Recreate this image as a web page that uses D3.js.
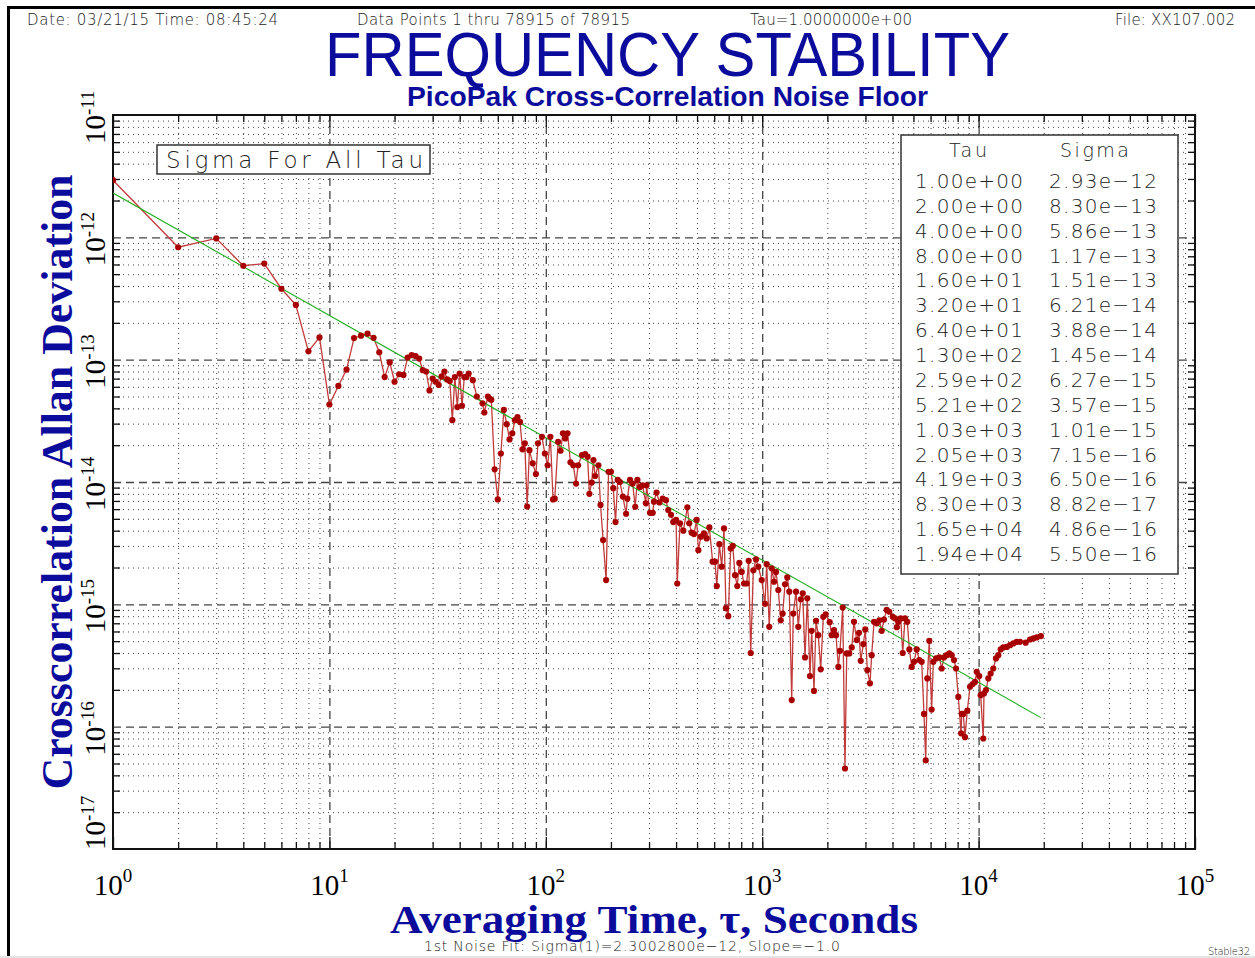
<!DOCTYPE html>
<html>
<head>
<meta charset="utf-8">
<script src="https://cdn.jsdelivr.net/npm/d3@7"></script>
<style>
body { margin: 0; background: #fff; }
svg { display: block; }
.hershey { font-family: 'DejaVu Sans', sans-serif; font-weight: 200; fill: #222; }
</style>
</head>
<body>
<div id="chart"></div>
<script>
'use strict'

var outerWidth = 1255;
var outerHeight = 958;
var plotLeft = 113, plotRight = 1195, plotTop = 115, plotBottom = 849;
var blue = '#0b0b9c';

// averaging times (s) and cross-correlation Allan deviation
var tauValues = [
  1, 2, 3, 4, 5, 6, 7, 8, 9, 10,
  11, 12, 13, 14, 15, 16, 17, 18, 19, 20,
  21, 22, 23, 24, 25, 26, 27, 28, 29, 30,
  31, 32, 33, 34, 35, 36, 37, 38, 39, 40,
  41, 42, 43, 44, 46, 48, 51, 52, 54, 55,
  56, 58, 60, 62, 64, 66, 68, 70, 72, 74,
  76, 78, 80, 82, 84, 87, 90, 92, 96, 99,
  102, 105, 108, 110, 114, 117, 120, 123, 126, 130,
  134, 138, 141, 147, 152, 156, 159, 163, 166, 169,
  175, 179, 184, 190, 195, 200, 205, 210, 215, 220,
  227, 235, 238, 245, 252, 259, 265, 272, 280, 290,
  292, 303, 312, 316, 325, 335, 347, 359, 368, 379,
  388, 400, 405, 417, 432, 451, 460, 472, 484, 498,
  507, 521, 538, 554, 570, 590, 605, 617, 634, 650,
  666, 680, 697, 715, 731, 749, 767, 784, 804, 824,
  848, 866, 885, 910, 936, 959, 995, 1030, 1049, 1078,
  1106, 1134, 1158, 1187, 1218, 1243, 1275, 1306, 1334, 1369,
  1392, 1433, 1468, 1507, 1539, 1577, 1616, 1663, 1693, 1735,
  1773, 1816, 1864, 1916, 1965, 2050, 2094, 2147, 2193, 2248,
  2288, 2355, 2413, 2458, 2526, 2593, 2656, 2734, 2802, 2853,
  2933, 2995, 3060, 3148, 3206, 3287, 3383, 3477, 3566, 3654,
  3761, 3867, 4010, 4110, 4190, 4259, 4365, 4460, 4571, 4683,
  4786, 4909, 5030, 5176, 5321, 5458, 5594, 5697, 5794, 5916,
  6067, 6177, 6357, 6580, 6753, 6920, 7122, 7320, 7510, 7697,
  7863, 8058, 8300, 8356, 8500, 8650, 8867, 9127, 9392, 9625,
  9800, 10070, 10220, 10510, 10590, 10820, 11090, 11370, 11690, 12030,
  12330, 12650, 13000, 13490, 13970, 14470, 15000, 15530, 16500, 17280,
  17890, 18560, 19400
];

var sigmaValues = [
  2.93e-12, 8.30e-13, 9.8e-13, 5.86e-13, 6.1e-13, 3.8e-13, 2.8e-13, 1.17e-13, 1.52e-13, 4.3e-14,
  6.1e-14, 8.3e-14, 1.50e-13, 1.57e-13, 1.63e-13, 1.51e-13, 1.15e-13, 7.2e-14, 9.5e-14, 6.6e-14,
  7.6e-14, 7.5e-14, 1.04e-13, 1.09e-13, 1.07e-13, 1.02e-13, 8.2e-14, 8.0e-14, 5.6e-14, 7.0e-14,
  6.6e-14, 6.21e-14, 7.3e-14, 8.0e-14, 6.9e-14, 6.7e-14, 3.2e-14, 7.2e-14, 4.1e-14, 7.7e-14,
  4.2e-14, 7.2e-14, 7.2e-14, 7.7e-14, 6.8e-14, 5.0e-14, 4.4e-14, 3.7e-14, 5.0e-14, 4.8e-14,
  4.7e-14, 1.27e-14, 7.2e-15, 1.71e-14, 3.88e-14, 2.97e-14, 2.23e-14, 2.5e-14, 3.2e-14, 3.4e-14,
  3.1e-14, 1.85e-14, 2.07e-14, 6.3e-15, 1.82e-14, 1.42e-14, 1.16e-14, 2.07e-14, 2.34e-14, 1.71e-14,
  1.37e-14, 2.34e-14, 7.2e-15, 7.3e-15, 2.13e-14, 1.8e-14, 2.5e-14, 2.27e-14, 2.5e-14, 1.45e-14,
  1.37e-14, 9.7e-15, 1.37e-14, 1.66e-14, 1.69e-14, 1.61e-14, 8.0e-15, 9.9e-15, 1.51e-14, 1.12e-14,
  1.37e-14, 6.5e-15, 3.35e-15, 1.58e-15, 1.21e-14, 1.21e-14, 8.9e-15, 4.7e-15, 1.04e-14, 1.0e-14,
  7.6e-15, 5.5e-15, 7.3e-15, 1.04e-14, 9.7e-15, 6.27e-15, 1.04e-14, 9.1e-15, 9.4e-15, 6.7e-15,
  9.4e-15, 5.6e-15, 5.6e-15, 6.9e-15, 8.2e-15, 6.8e-15, 7.3e-15, 7.1e-15, 5.9e-15, 5.4e-15,
  4.7e-15, 4.9e-15, 1.48e-15, 4.6e-15, 4.0e-15, 6.2e-15, 4.6e-15, 3.85e-15, 3.75e-15, 4.9e-15,
  2.77e-15, 3.57e-15, 3.8e-15, 3.46e-15, 4.25e-15, 2.23e-15, 2.23e-15, 1.41e-15, 3.1e-15, 2.03e-15,
  4.17e-15, 9.3e-16, 8.0e-16, 2.86e-15, 3.0e-15, 1.73e-15, 1.41e-15, 2.18e-15, 1.84e-15, 1.48e-15,
  1.48e-15, 2.27e-15, 4.0e-16, 1.9e-15, 2.33e-15, 2.03e-15, 1.58e-15, 1.01e-15, 2.13e-15, 6.55e-16,
  1.97e-15, 1.53e-15, 1.84e-15, 1.31e-15, 7.4e-16, 8.4e-16, 1.46e-15, 1.66e-15, 1.27e-15, 1.65e-16,
  8.4e-16, 1.27e-15, 6.55e-16, 1.1e-15, 1.23e-15, 3.68e-16, 1.12e-15, 2.59e-16, 6.07e-16, 1.96e-16,
  7.33e-16, 5.6e-16, 2.94e-16, 7.9e-16, 8.3e-16, 7.15e-16, 5.6e-16, 6.15e-16, 5.6e-16, 3.08e-16,
  4.17e-16, 9.4e-16, 4.55e-17, 3.97e-16, 3.97e-16, 4.44e-16, 7.2e-16, 5.1e-16, 5.85e-16, 3.45e-16,
  4.73e-16, 6.23e-16, 2.9e-16, 2.26e-16, 3.84e-16, 7.2e-16, 7.0e-16, 7.4e-16, 6.07e-16, 7.5e-16,
  9.0e-16, 8.7e-16, 7.9e-16, 7.67e-16, 6.50e-16, 7.2e-16, 7.67e-16, 4.0e-16, 7.67e-16, 7.2e-16,
  4.28e-16, 3.08e-16, 3.39e-16, 4.28e-16, 3.5e-16, 3.39e-16, 1.27e-16, 5.3e-17, 2.48e-16, 5.03e-16,
  1.38e-16, 3.39e-16, 3.61e-16, 3.68e-16, 2.99e-16, 3.68e-16, 3.84e-16, 3.97e-16, 3.84e-16, 3.5e-16,
  2.99e-16, 1.75e-16, 8.82e-17, 1.27e-16, 1.27e-16, 8.2e-17, 1.35e-16, 2.12e-16, 2.23e-16, 2.32e-16,
  2.81e-16, 2.59e-16, 1.81e-16, 8.0e-17, 1.87e-16, 1.99e-16, 2.48e-16, 2.72e-16, 2.99e-16, 3.61e-16,
  3.84e-16, 4.28e-16, 4.44e-16, 4.49e-16, 4.64e-16, 4.79e-16, 4.94e-16, 4.94e-16, 4.86e-16, 5.16e-16,
  5.26e-16, 5.36e-16, 5.50e-16
];

// first noise fit line end points: Sigma(1)=2.30028e-12, slope -1
var fitTau = [1, 19400];
var fitSigma = [2.30028e-12, 1.186e-16];

// table of octave tau values
var tableTau = ['1.00e+00', '2.00e+00', '4.00e+00', '8.00e+00', '1.60e+01', '3.20e+01', '6.40e+01', '1.30e+02',
  '2.59e+02', '5.21e+02', '1.03e+03', '2.05e+03', '4.19e+03', '8.30e+03', '1.65e+04', '1.94e+04'];
var tableSigma = ['2.93e\u221212', '8.30e\u221213', '5.86e\u221213', '1.17e\u221213', '1.51e\u221213', '6.21e\u221214',
  '3.88e\u221214', '1.45e\u221214', '6.27e\u221215', '3.57e\u221215', '1.01e\u221215', '7.15e\u221216',
  '6.50e\u221216', '8.82e\u221217', '4.86e\u221216', '5.50e\u221216'];

var xExponents = [0, 1, 2, 3, 4, 5];
var yExponents = [-11, -12, -13, -14, -15, -16, -17];

//create the svg element

var svg = d3.select('#chart').append('svg')
  .attr('width', outerWidth)
  .attr('height', outerHeight);

svg.append('rect').attr('width', outerWidth).attr('height', outerHeight).attr('fill', '#fff');
svg.append('rect').attr('x', 0).attr('y', 956).attr('width', outerWidth).attr('height', 2).attr('fill', '#e4e4e4');

// outer frame (left and top edges only, like the screen capture)
svg.append('line').attr('x1', 8.5).attr('x2', 8.5).attr('y1', 6).attr('y2', 956)
  .attr('stroke', '#000').attr('stroke-width', 3);
svg.append('line').attr('x1', 7).attr('x2', outerWidth).attr('y1', 7.5).attr('y2', 7.5)
  .attr('stroke', '#000').attr('stroke-width', 3);

//scales

var xScale = d3.scaleLog().domain([1, 1e5]).range([plotLeft, plotRight]);
var yScale = d3.scaleLog().domain([1e-17, 1e-11]).range([plotBottom, plotTop]);
var plotW = plotRight - plotLeft, plotH = plotBottom - plotTop;

function isDecade(v){ return Math.abs(Math.log10(v) - Math.round(Math.log10(v))) < 1e-9; }
var xMinor = xScale.ticks().filter(function(v){ return !isDecade(v); });
var xMajor = xScale.ticks().filter(isDecade);
var yMinor = yScale.ticks().filter(function(v){ return !isDecade(v); });
var yMajor = yScale.ticks().filter(isDecade);

var g = svg.append('g').attr('transform', 'translate(' + plotLeft + ',' + plotTop + ')');
var xLocal = d3.scaleLog().domain(xScale.domain()).range([0, plotW]);
var yLocal = d3.scaleLog().domain(yScale.domain()).range([plotH, 0]);

//grid lines drawn with axes

function gridX(vals, dash, color, width){
  var a = g.append('g').attr('transform', 'translate(0,' + plotH + ')')
    .call(d3.axisBottom(xLocal).tickValues(vals).tickSize(-plotH).tickFormat(''));
  a.select('.domain').remove();
  a.selectAll('line').attr('stroke', color).attr('stroke-width', width).attr('stroke-dasharray', dash);
}
function gridY(vals, dash, color, width){
  var a = g.append('g')
    .call(d3.axisLeft(yLocal).tickValues(vals).tickSize(-plotW).tickFormat(''));
  a.select('.domain').remove();
  a.selectAll('line').attr('stroke', color).attr('stroke-width', width).attr('stroke-dasharray', dash);
}
gridX(xMinor, '1,4', '#444', 1);
gridY(yMinor, '1,4', '#444', 1);
gridX(xMajor.slice(1, -1), '8,5', '#444', 1.3);
gridY(yMajor.slice(1, -1), '8,5', '#444', 1.3);

//inside ticks on all four sides

function ticks(axis, transform, vals, size){
  var a = g.append('g').attr('transform', transform)
    .call(axis.tickValues(vals).tickSize(-size).tickFormat(''));
  a.select('.domain').remove();
  a.selectAll('line').attr('stroke', '#111').attr('stroke-width', 1.3);
}
ticks(d3.axisBottom(xLocal), 'translate(0,' + plotH + ')', xMinor, 7);
ticks(d3.axisTop(xLocal), 'translate(0,0)', xMinor, 7);
ticks(d3.axisLeft(yLocal), 'translate(0,0)', yMinor, 7);
ticks(d3.axisRight(yLocal), 'translate(' + plotW + ',0)', yMinor, 7);
ticks(d3.axisBottom(xLocal), 'translate(0,' + plotH + ')', xMajor, 12);
ticks(d3.axisTop(xLocal), 'translate(0,0)', xMajor, 12);

// plot frame
g.append('rect').attr('width', plotW).attr('height', plotH)
  .attr('fill', 'none').attr('stroke', '#111').attr('stroke-width', 2);

//data

var data = tauValues.map(function(t, i){ return {tau: t, sigma: sigmaValues[i]}; });
var fit = fitTau.map(function(t, i){ return {tau: t, sigma: fitSigma[i]}; });

g.append('clipPath').attr('id', 'plotClip').append('rect').attr('width', plotW).attr('height', plotH);
var plot = g.append('g').attr('clip-path', 'url(#plotClip)');

var line = d3.line()
  .x(function(d){ return xLocal(d.tau); })
  .y(function(d){ return yLocal(d.sigma); });

plot.append('path').datum(data)
  .attr('d', line).attr('fill', 'none')
  .attr('stroke', '#c23a3a').attr('stroke-width', 1.3);

plot.append('path').datum(fit)
  .attr('d', line).attr('fill', 'none')
  .attr('stroke', '#1fae1f').attr('stroke-width', 1.1);

plot.selectAll('circle').data(data).enter().append('circle')
  .attr('cx', function(d){ return xLocal(d.tau); })
  .attr('cy', function(d){ return yLocal(d.sigma); })
  .attr('r', 3.1)
  .attr('fill', '#a80000');

//"Sigma For All Tau" box

g.append('rect').attr('x', 157 - plotLeft).attr('y', 145 - plotTop).attr('width', 273).attr('height', 29)
  .attr('fill', '#fff').attr('stroke', '#333').attr('stroke-width', 1.5);
svg.append('text').attr('class', 'hershey').attr('x', 166).attr('y', 168)
  .attr('font-size', 23).attr('textLength', 257).attr('lengthAdjust', 'spacing')
  .text('Sigma For All Tau');

//tau / sigma table

svg.append('rect').attr('x', 901).attr('y', 135).attr('width', 277).attr('height', 439)
  .attr('fill', '#fff').attr('stroke', '#333').attr('stroke-width', 1.5);
svg.append('text').attr('class', 'hershey').attr('x', 949).attr('y', 157)
  .attr('font-size', 19).attr('textLength', 38).attr('lengthAdjust', 'spacing').text('Tau');
svg.append('text').attr('class', 'hershey').attr('x', 1060).attr('y', 157)
  .attr('font-size', 19).attr('textLength', 69).attr('lengthAdjust', 'spacing').text('Sigma');

var rowY = d3.scaleLinear().domain([0, 15]).range([188, 561]);
svg.selectAll('text.tabTau').data(tableTau).enter().append('text')
  .attr('class', 'hershey tabTau')
  .attr('x', 915).attr('y', function(d, i){ return rowY(i); })
  .attr('font-size', 20).attr('textLength', 108).attr('lengthAdjust', 'spacing')
  .text(function(d){ return d; });
svg.selectAll('text.tabSigma').data(tableSigma).enter().append('text')
  .attr('class', 'hershey tabSigma')
  .attr('x', 1049).attr('y', function(d, i){ return rowY(i); })
  .attr('font-size', 20).attr('textLength', 108).attr('lengthAdjust', 'spacing')
  .text(function(d){ return d; });

//tick labels

var xLab = svg.selectAll('text.xlab').data(xExponents).enter().append('text')
  .attr('class', 'xlab')
  .attr('x', function(d){ return xScale(Math.pow(10, d)); })
  .attr('y', 895)
  .attr('text-anchor', 'middle')
  .attr('font-family', "'Liberation Serif', serif")
  .attr('font-size', 29)
  .attr('fill', '#000');
xLab.append('tspan').text('10');
xLab.append('tspan').attr('dy', -13).attr('font-size', 19).text(function(d){ return d; });

// bottom label is pushed up so it stays beside the plot
var yLab = svg.selectAll('g.ylab').data(yExponents).enter().append('g')
  .attr('class', 'ylab')
  .attr('transform', function(d){
    var yy = yScale(Math.pow(10, d));
    if (d === -17) yy -= 28;
    return 'translate(105,' + yy + ') rotate(-90)';
  });
yLab.append('text').attr('text-anchor', 'end')
  .attr('font-family', "'Liberation Serif', serif").attr('font-size', 29).attr('fill', '#000')
  .text('10');
yLab.append('text').attr('text-anchor', 'start').attr('y', -11)
  .attr('font-family', "'Liberation Serif', serif").attr('font-size', 19).attr('fill', '#000')
  .text(function(d){ return '-' + Math.abs(d); });

//axis titles

svg.append('text')
  .attr('transform', 'translate(72,482) rotate(-90)')
  .attr('text-anchor', 'middle')
  .attr('font-family', "'Liberation Serif', serif").attr('font-weight', 'bold')
  .attr('font-size', 44).attr('fill', blue)
  .attr('textLength', 615).attr('lengthAdjust', 'spacingAndGlyphs')
  .text('Crosscorrelation Allan Deviation');

svg.append('text')
  .attr('x', 390).attr('y', 933)
  .attr('font-family', "'Liberation Serif', serif").attr('font-weight', 'bold')
  .attr('font-size', 40).attr('fill', blue)
  .attr('textLength', 528).attr('lengthAdjust', 'spacingAndGlyphs')
  .text('Averaging Time, \u03c4, Seconds');

//titles

svg.append('text')
  .attr('x', 325).attr('y', 76)
  .attr('font-family', "'Liberation Sans', Arial, sans-serif")
  .attr('font-size', 63).attr('fill', blue)
  .attr('textLength', 685).attr('lengthAdjust', 'spacingAndGlyphs')
  .text('FREQUENCY STABILITY');

svg.append('text')
  .attr('x', 407).attr('y', 106)
  .attr('font-family', "'Liberation Sans', Arial, sans-serif").attr('font-weight', 'bold')
  .attr('font-size', 28).attr('fill', blue)
  .attr('textLength', 521).attr('lengthAdjust', 'spacingAndGlyphs')
  .text('PicoPak Cross-Correlation Noise Floor');

//header and footer notes

var notes = [
  {t: 'Date: 03/21/15  Time: 08:45:24', x: 27, y: 25, w: 251, s: 15},
  {t: 'Data Points 1 thru 78915 of 78915', x: 357, y: 25, w: 273, s: 15},
  {t: 'Tau=1.0000000e+00', x: 750, y: 25, w: 162, s: 15},
  {t: 'File: XX107.002', x: 1115, y: 25, w: 120, s: 15},
  {t: '1st Noise Fit: Sigma(1)=2.3002800e\u221212, Slope=\u22121.0', x: 424, y: 951, w: 416, s: 14},
  {t: 'Stable32', x: 1208, y: 955, w: 42, s: 10}
];
svg.selectAll('text.note').data(notes).enter().append('text')
  .attr('class', 'hershey note')
  .attr('x', function(d){ return d.x; })
  .attr('y', function(d){ return d.y; })
  .attr('font-size', function(d){ return d.s; })
  .attr('textLength', function(d){ return d.w; })
  .attr('lengthAdjust', 'spacing')
  .text(function(d){ return d.t; });
</script>
</body>
</html>
